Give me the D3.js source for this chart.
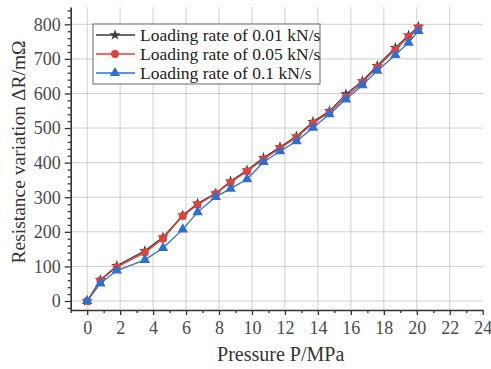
<!DOCTYPE html>
<html>
<head>
<meta charset="utf-8">
<script src="https://cdn.jsdelivr.net/npm/d3@7"></script>
<style>
  body { margin: 0; background: #fff; }
  text { font-family: "Liberation Serif", "Times New Roman", serif; }
</style>
</head>
<body>
<svg id="chart" width="491" height="369"></svg>
<script>
// pressure (MPa) at each loading step
const pressure = [0, 0.8, 1.8, 3.5, 4.6, 5.8, 6.7, 7.8, 8.7, 9.7, 10.7, 11.7, 12.7, 13.7, 14.7, 15.7, 16.7, 17.6, 18.7, 19.5, 20.1];
// resistance variation (mOhm) per loading rate
const rate001 = [0, 61, 102, 145, 184, 248, 282, 311, 346, 378, 414, 445, 476, 518, 549, 598, 636, 680, 732, 768, 793];
const rate005 = [0, 59, 98, 140, 180, 246, 278, 310, 343, 375, 410, 442, 473, 514, 546, 590, 632, 676, 726, 763, 790];
const rate01 = [0, 51, 88, 119, 153, 207, 257, 301, 325, 352, 402, 433, 462, 501, 540, 583, 624, 666, 711, 747, 781];

const seriesNames = ["Loading rate of 0.01 kN/s", "Loading rate of 0.05 kN/s", "Loading rate of 0.1 kN/s"];
const xTicks = [0, 2, 4, 6, 8, 10, 12, 14, 16, 18, 20, 22, 24];
const yTicks = [0, 100, 200, 300, 400, 500, 600, 700, 800];

const series = [
  { name: seriesNames[0], values: rate001, color: "#3a3a3a", symbol: d3.symbolStar, size: 40 },
  { name: seriesNames[1], values: rate005, color: "#e0423c", symbol: d3.symbolCircle, size: 50 },
  { name: seriesNames[2], values: rate01, color: "#2f6fcf", symbol: d3.symbolTriangle, size: 48 },
];

const svg = d3.select("#chart");
const plotLeft = 70.7, plotRight = 482.7, plotTop = 7, plotBottom = 310;

const x = d3.scaleLinear().domain([-1, 24]).range([plotLeft, plotRight]);
const y = d3.scaleLinear().domain([-26, 850]).range([plotBottom, plotTop]);

// grid
const grid = svg.append("g").attr("stroke", "#cfcfcf").attr("stroke-width", 1);
grid.selectAll("line.v")
  .data(xTicks.filter((d) => d < 24))
  .join("line")
  .attr("class", "v")
  .attr("x1", (d) => x(d)).attr("x2", (d) => x(d))
  .attr("y1", plotBottom).attr("y2", plotTop);
grid.selectAll("line.h")
  .data(yTicks)
  .join("line")
  .attr("class", "h")
  .attr("x1", plotLeft).attr("x2", plotRight)
  .attr("y1", (d) => y(d)).attr("y2", (d) => y(d));

// axes
const axisColor = "#333";
const xMinor = d3.range(-1, 25, 1).filter((d) => d % 2 !== 0);
const yMinor = d3.range(-20, 850, 20).filter((d) => d % 100 !== 0);

const xAxis = svg.append("g").attr("transform", `translate(0,${plotBottom})`);
xAxis.call(d3.axisBottom(x).tickValues(xTicks).tickSize(5).tickPadding(6).tickSizeOuter(0));
xAxis.append("g").call(d3.axisBottom(x).tickValues(xMinor).tickSize(3).tickFormat("").tickSizeOuter(0))
  .select(".domain").remove();

const yAxis = svg.append("g").attr("transform", `translate(${plotLeft},0)`);
yAxis.call(d3.axisLeft(y).tickValues(yTicks).tickSize(6).tickPadding(4).tickSizeOuter(0));
yAxis.append("g").call(d3.axisLeft(y).tickValues(yMinor).tickSize(3).tickFormat("").tickSizeOuter(0))
  .select(".domain").remove();

svg.selectAll(".domain").attr("stroke", axisColor).attr("stroke-width", 1.6);
svg.selectAll(".tick line").attr("stroke", axisColor).attr("stroke-width", 1.3);
svg.selectAll(".tick text")
  .attr("fill", "#4a4a4a")
  .attr("font-size", "18px");

// axis titles
svg.append("text")
  .attr("x", (plotLeft + plotRight) / 2 + 4)
  .attr("y", 361)
  .attr("text-anchor", "middle")
  .attr("font-size", "20px")
  .attr("fill", "#333")
  .text("Pressure P/MPa");

svg.append("text")
  .attr("transform", "translate(25,152) rotate(-90)")
  .attr("text-anchor", "middle")
  .attr("font-size", "19.5px")
  .attr("fill", "#333")
  .text("Resistance variation ΔR/mΩ");

// series
const line = d3.line()
  .x((d, i) => x(pressure[i]))
  .y((d) => y(d));

series.forEach((s) => {
  const g = svg.append("g");
  g.append("path")
    .datum(s.values)
    .attr("fill", "none")
    .attr("stroke", s.color)
    .attr("stroke-width", 1.3)
    .attr("d", line);
  g.selectAll("path.pt")
    .data(s.values)
    .join("path")
    .attr("class", "pt")
    .attr("transform", (d, i) => `translate(${x(pressure[i])},${y(d)})`)
    .attr("d", d3.symbol().type(s.symbol).size(s.size))
    .attr("fill", s.color);
});

// legend
const legend = svg.append("g").attr("transform", "translate(93,24)");
legend.append("rect")
  .attr("width", 227).attr("height", 60)
  .attr("fill", "#fff")
  .attr("stroke", "#666")
  .attr("stroke-width", 1);

const rows = legend.selectAll("g.row")
  .data(series)
  .join("g")
  .attr("class", "row")
  .attr("transform", (d, i) => `translate(0,${11 + i * 19})`);
rows.append("line")
  .attr("x1", 3).attr("x2", 42)
  .attr("stroke", (d) => d.color)
  .attr("stroke-width", 1.3);
rows.append("path")
  .attr("transform", "translate(22,0)")
  .attr("d", (d) => d3.symbol().type(d.symbol).size(d.size)())
  .attr("fill", (d) => d.color);
rows.append("text")
  .attr("x", 47)
  .attr("y", 5.5)
  .attr("font-size", "17.5px")
  .attr("fill", "#222")
  .text((d) => d.name);
</script>
</body>
</html>
